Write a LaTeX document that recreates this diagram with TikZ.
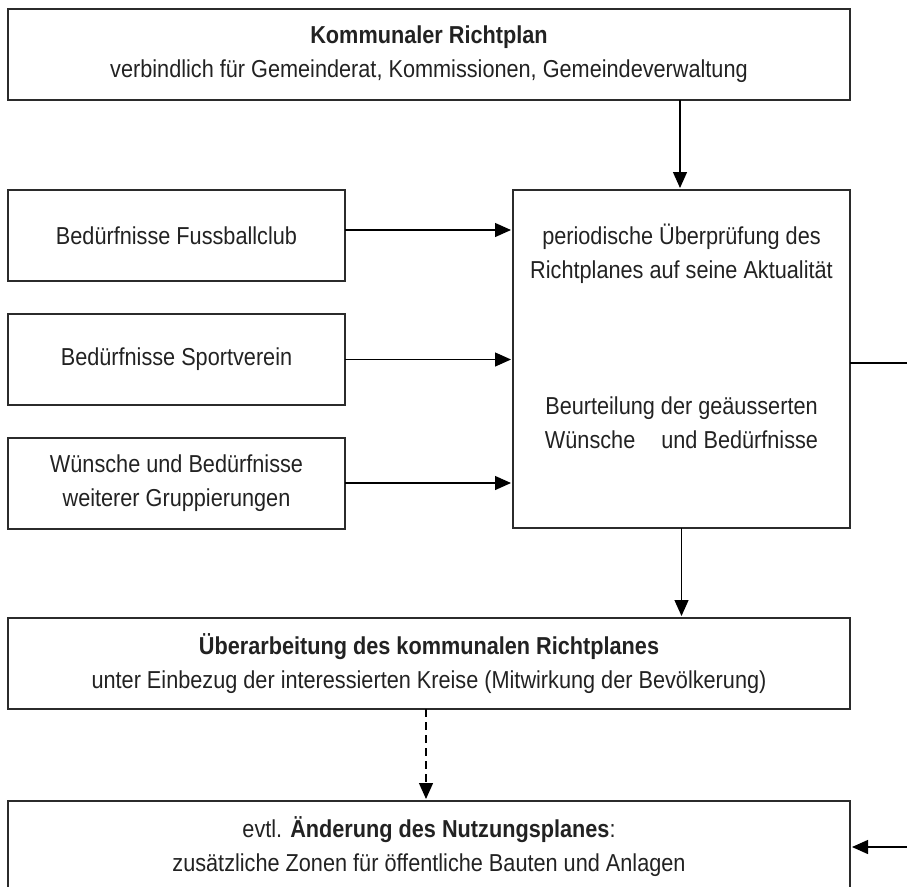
\documentclass[tikz,border=0pt]{standalone}
\usepackage{fontspec}
\setmainfont{Liberation Sans}[FakeStretch=0.885]
\usetikzlibrary{arrows.meta,calc}
\definecolor{boxline}{HTML}{2B2B2B}
\definecolor{txt}{HTML}{222222}
\tikzset{
  box/.style={draw=boxline, line width=2pt, rectangle, inner sep=0pt, outer sep=0pt,
    align=center, text=txt, font=\fontsize{24.5}{34}\selectfont},
  wide/.style={box, minimum width=842pt, minimum height=91pt},
  small/.style={box, minimum width=337pt, minimum height=91pt},
  arr/.style={line width=1.3pt, -{Triangle[length=16pt,width=14pt]}, shorten >=2pt},
  plain/.style={line width=1.3pt},
  dsh/.style={arr, dash pattern=on 8pt off 5pt},
  lbl/.style={align=center, text=txt, font=\fontsize{24.5}{34}\selectfont, inner sep=0pt}
}
\begin{document}
\begin{tikzpicture}[x=1pt,y=-1pt]
\useasboundingbox (0,0) rectangle (907,886);
\node[wide] (kom) at (429,54.5) {\textbf{Kommunaler Richtplan}\\verbindlich für Gemeinderat, Kommissionen, Gemeindeverwaltung};
\node[box, minimum width=337pt, minimum height=338pt] (review) at (681.5,359) {};
\node[lbl] (reviewtext) at (681.5,336.5) {periodische Überprüfung des\\Richtplanes auf seine Aktualität\\[102pt]Beurteilung der geäusserten\\Wünsche\hspace{20pt} und Bedürfnisse};
\node[small] (b1) at (176.5,235.5) {Bedürfnisse Fussballclub};
\node[small] (b2) at (176.5,359.5) {Bedürfnisse Sportverein};
\node[small] (b3) at (176.5,483) {Wünsche und Bedürfnisse\\weiterer Gruppierungen};
\node[wide] (ueb) at (429,663.5) {\textbf{Überarbeitung des kommunalen Richtplanes}\\unter Einbezug der interessierten Kreise (Mitwirkung der Bevölkerung)};
\node[wide] (aend) at (429,846.5) {evtl. \textbf{Änderung des Nutzungsplanes}:\\zusätzliche Zonen für öffentliche Bauten und Anlagen};
\coordinate (outA) at (915,363);
\coordinate (outB) at (915,847);
% connectors
\draw[arr] ([xshift=-1.5pt]review.north |- kom.south) -- ([xshift=-1.5pt]review.north);
\draw[arr] ([yshift=5.5pt]b1.east) -- ([yshift=5.5pt]review.west |- b1.east);
\draw[arr] (b2.east) -- (review.west |- b2.east);
\draw[arr] (b3.east) -- (review.west |- b3.east);
\draw[arr] (review.south) -- (review.south |- ueb.north);
\draw[dsh] ([xshift=-3pt]ueb.south) -- ([xshift=-3pt]aend.north);
\draw[plain] (review.east |- outA) -- (outA);
\draw[arr] (outB) -- (aend.east |- outB);
\end{tikzpicture}
\end{document}
